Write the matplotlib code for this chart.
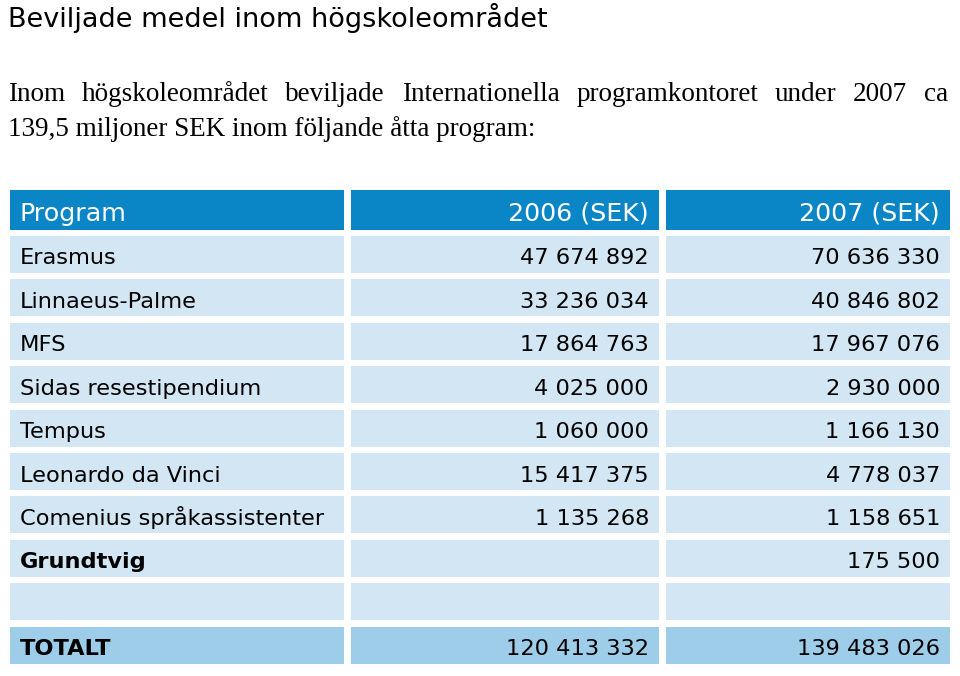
import matplotlib.pyplot as plt
from matplotlib.patches import Rectangle

title = "Beviljade medel inom högskoleområdet"
intro = ["Inom högskoleområdet beviljade Internationella programkontoret under 2007 ca",
         "139,5 miljoner SEK inom följande åtta program:"]

headers = ["Program", "2006 (SEK)", "2007 (SEK)"]
programs = ["Erasmus", "Linnaeus-Palme", "MFS", "Sidas resestipendium", "Tempus",
            "Leonardo da Vinci", "Comenius språkassistenter", "Grundtvig", "", "TOTALT"]
sek_2006 = ["47 674 892", "33 236 034", "17 864 763", "4 025 000", "1 060 000",
            "15 417 375", "1 135 268", "", "", "120 413 332"]
sek_2007 = ["70 636 330", "40 846 802", "17 967 076", "2 930 000", "1 166 130",
            "4 778 037", "1 158 651", "175 500", "", "139 483 026"]
bold_rows = ["Grundtvig", "TOTALT"]

head_col = "#0a86c6"
row_col = "#d3e6f3"
total_col = "#9dcde8"

fig = plt.figure(figsize=(9.6, 6.76), dpi=100)
ax = fig.add_axes([0, 0, 1, 1])
ax.set_xlim(0, 960)
ax.set_ylim(676, 0)
ax.axis("off")

# rubrik
ax.text(8, 27, title, fontsize=19.5, family="DejaVu Sans", va="baseline", ha="left")

# första raden i brödtexten är utfylld (justerad) mellan x=8 och x=948
renderer = fig.canvas.get_renderer()
words = intro[0].split(" ")
tmp = [ax.text(0, 0, w, fontsize=19.5, family="Liberation Serif") for w in words]
widths = []
for t in tmp:
    bb = t.get_window_extent(renderer)
    widths.append(bb.width)
    t.remove()
gap = (940 - sum(widths)) / (len(words) - 1)
x = 8
for w, wd in zip(words, widths):
    ax.text(x, 101, w, fontsize=19.5, family="Liberation Serif", va="baseline", ha="left")
    x += wd + gap
ax.text(8, 136, intro[1], fontsize=19.5, family="Liberation Serif", va="baseline", ha="left")

cols_x = [(10, 344), (351, 659), (666, 950)]

def draw_row(y0, h, values, color, txtcolor, weight, size, base):
    for i, (x0, x1) in enumerate(cols_x):
        ax.add_patch(Rectangle((x0, y0), x1 - x0, h, color=color, lw=0))
        if i == 0:
            ax.text(x0 + 10, y0 + base, values[i], ha="left", va="baseline",
                    fontsize=size, color=txtcolor, weight=weight)
        else:
            ax.text(x1 - 10, y0 + base, values[i], ha="right", va="baseline",
                    fontsize=size, color=txtcolor)

draw_row(190, 40, headers, head_col, "white", "normal", 18.3, 30.5)
for k in range(len(programs)):
    y0 = 236 + k * 43.4
    c = total_col if programs[k] == "TOTALT" else row_col
    w = "bold" if programs[k] in bold_rows else "normal"
    draw_row(y0, 37, [programs[k], sek_2006[k], sek_2007[k]], c, "black", w, 16.2, 28.5)

plt.savefig("out.png", dpi=100)
